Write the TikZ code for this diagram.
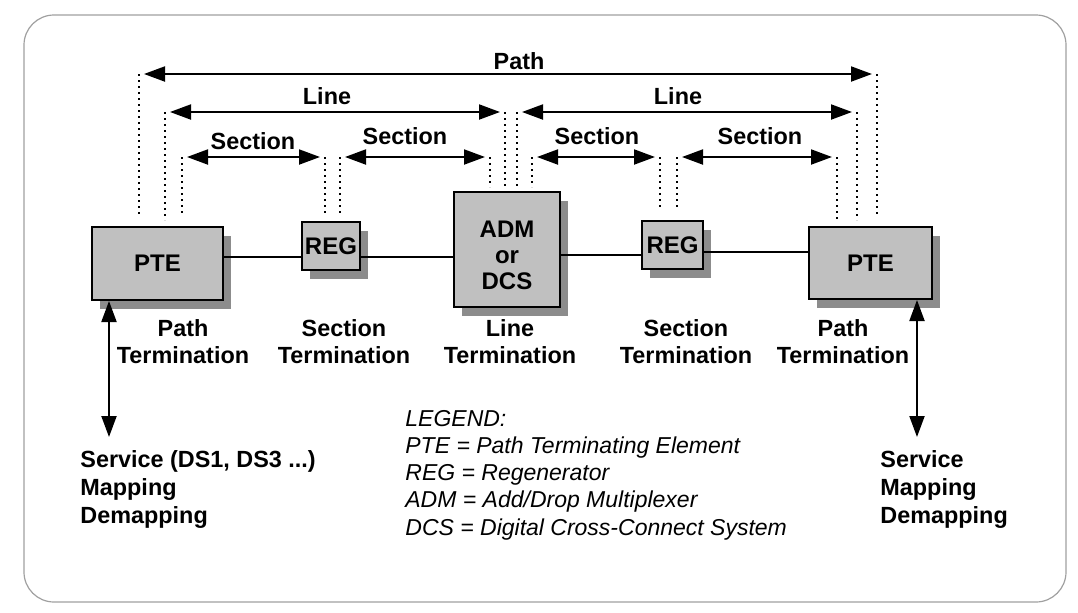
\documentclass[tikz,border=0pt]{standalone}
\usepackage{fontspec}
\setmainfont{Liberation Sans}
\usetikzlibrary{arrows.meta,shadows}
\definecolor{boxgray}{HTML}{C0C0C0}
\definecolor{shadegray}{HTML}{8C8C8C}
\definecolor{framegray}{HTML}{A0A0A0}
\tikzset{
	elem/.style={draw,line width=1pt,fill=boxgray,inner sep=0pt,align=center,
		font=\fontsize{12}{13}\selectfont\bfseries,
		drop shadow={shadow xshift=4pt,shadow yshift=-4.5pt,fill=shadegray,opacity=1}},
	spanarrow/.style={line width=1pt,{Triangle[length=10.5pt,width=7.5pt]}-{Triangle[length=10.5pt,width=7.5pt]},
		shorten <=2.5pt,shorten >=2.5pt},
	guide/.style={line width=1.1pt,dash pattern=on 1.1pt off 1.9pt},
	lbl/.style={font=\fontsize{11.7}{13.5}\selectfont\bfseries,align=center,inner sep=0pt},
}

\begin{document}
\begin{tikzpicture}[x=0.5pt,y=-0.5pt]
	\useasboundingbox (0,0) rectangle (1078,612);
	\draw[framegray,line width=0.6pt,rounded corners=15pt] (24,15) rectangle (1066,602);

	\node[elem,minimum width=65.5pt,minimum height=36.5pt] (pteL) at (157.5,263.5) {PTE};
	\node[elem,minimum width=29pt,minimum height=24pt] (regL) at (331,246) {REG};
	\node[elem,minimum width=53pt,minimum height=57.5pt] (adm) at (507,249.5) {};
	\node[elem,minimum width=30.5pt,minimum height=24pt] (regR) at (672.5,245) {REG};
	\node[elem,minimum width=61.5pt,minimum height=36pt] (pteR) at (870.5,263) {PTE};
	\node[align=center,inner sep=0pt,font=\fontsize{12}{13}\selectfont\bfseries] (admTxt) at (507,255) {ADM\\or\\DCS};

	\draw[line width=1pt] (pteL.east |- 0,257) -- (regL.west |- 0,257);
	\draw[line width=1pt] (regL.east |- 0,257) -- (adm.west |- 0,257);
	\draw[line width=1pt] (adm.east |- 0,255) -- (regR.west |- 0,255);
	\draw[line width=1pt] (regR.east |- 0,252) -- (pteR.west |- 0,252);

	\foreach \n/\x/\y in {pathL/139/74,pathR/877/74,lineLa/165/112,lineLb/505/112,
		lineRa/517/112,lineRb/857/112,secA/182/157,secB/325/157,secC/340/157,secD/490/157,
		secE/532/157,secF/660/157,secG/677/157,secH/837/157}{
		\coordinate (\n) at (\x,\y);
	}
	\foreach \c/\yb in {pathL/215,lineLa/220,secA/215,secB/213,secC/213,secD/187,lineLb/187,
		lineRa/187,secE/187,secF/210,secG/210,secH/220,lineRb/220,pathR/215}{
		\draw[guide] (\c) -- (\c |- 0,\yb);
	}

	\draw[spanarrow] (pathL) -- (pathR);
	\draw[spanarrow] (lineLa) -- (lineLb);
	\draw[spanarrow] (lineRa) -- (lineRb);
	\draw[spanarrow] (secA) -- (secB);
	\draw[spanarrow] (secC) -- (secD);
	\draw[spanarrow] (secE) -- (secF);
	\draw[spanarrow] (secG) -- (secH);

	\node[lbl] (tPath) at (519,61) {Path};
	\node[lbl] (tLineL) at (327,96) {Line};
	\node[lbl] (tLineR) at (678,96) {Line};
	\node[lbl] (tSecA) at (253,141) {Section};
	\node[lbl] (tSecB) at (405,136) {Section};
	\node[lbl] (tSecC) at (597,136) {Section};
	\node[lbl] (tSecD) at (760,136) {Section};

	\node[lbl] (termA) at (183,342) {Path\\Termination};
	\node[lbl] (termB) at (344,342) {Section\\Termination};
	\node[lbl] (termC) at (510,342) {Line\\Termination};
	\node[lbl] (termD) at (686,342) {Section\\Termination};
	\node[lbl] (termE) at (843,342) {Path\\Termination};

	\coordinate (svcL) at (109,437);
	\coordinate (svcR) at (917,437);
	\draw[spanarrow,shorten <=0pt,shorten >=0pt] (pteL.south -| svcL) -- (svcL);
	\draw[spanarrow,shorten <=0pt,shorten >=0pt] (pteR.south -| svcR) -- (svcR);

	\node[lbl,align=left,anchor=west,font=\fontsize{11.7}{14}\selectfont\bfseries] (svcTxtL) at (80,489)
		{Service (DS1, DS3 ...)\\Mapping\\Demapping};
	\node[lbl,align=left,anchor=west,font=\fontsize{11.7}{14}\selectfont\bfseries] (svcTxtR) at (880,489)
		{Service\\Mapping\\Demapping};

	\node[anchor=west,align=left,inner sep=0pt,font=\fontsize{11.5}{13.6}\selectfont\itshape] (legend) at (405,475)
		{LEGEND:\\PTE = Path Terminating Element\\REG = Regenerator\\ADM = Add/Drop Multiplexer\\DCS = Digital Cross-Connect System};
\end{tikzpicture}
\end{document}
